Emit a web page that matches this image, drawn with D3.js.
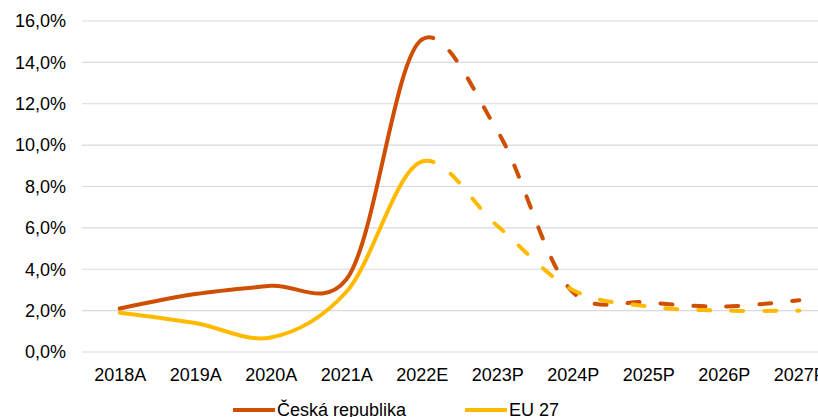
<!DOCTYPE html>
<html>
<head>
<meta charset="utf-8">
<script src="https://cdn.jsdelivr.net/npm/d3@7"></script>
<style>
  html, body { margin: 0; padding: 0; background: #fff; }
  svg { display: block; font-family: "Liberation Sans", Arial, sans-serif; }
</style>
</head>
<body>
<svg id="chart" width="818" height="417"></svg>
<script>
// Inflation: Czech Republic vs EU 27 (A = actual, E = estimate, P = forecast)
const categories = ["2018A", "2019A", "2020A", "2021A", "2022E", "2023P", "2024P", "2025P", "2026P", "2027P"];
const czValues = [2.1, 2.8, 3.2, 3.5, 15.1, 10.7, 2.9, 2.4, 2.2, 2.5];
const euValues = [1.9, 1.4, 0.7, 2.9, 9.2, 6.1, 3.0, 2.2, 2.0, 2.0];
const yTicks = [0, 2, 4, 6, 8, 10, 12, 14, 16];
const seriesNames = ["Česká republika", "EU 27"];
const seriesColors = ["#D04E02", "#FFBA00"];
const lastActual = "2022E"; // solid up to here, dashed afterwards

const svg = d3.select("#chart");
const W = 818;

const x = d3.scalePoint().domain(categories).range([82 + 37.75, 837 - 37.75]);
const y = d3.scaleLinear().domain([0, 16]).range([352, 21]);

// horizontal grid
svg.append("g").selectAll("line").data(yTicks).join("line")
  .attr("x1", 82).attr("x2", W)
  .attr("y1", d => y(d)).attr("y2", d => y(d))
  .attr("stroke", "#d9d9d9").attr("stroke-width", 1.2);

// y axis labels
const fmt = d => d.toFixed(1).replace(".", ",") + "%";
const yAxis = d3.axisLeft(y).tickValues(yTicks).tickFormat(fmt).tickSize(0).tickPadding(0);
svg.append("g").attr("transform", "translate(66,0)").call(yAxis)
  .call(g => g.select(".domain").remove())
  .selectAll("text")
  .attr("font-size", 18).attr("fill", "#000").attr("font-family", "Liberation Sans, Arial, sans-serif");

// x axis labels
const xAxis = d3.axisBottom(x).tickSize(0).tickPadding(0);
svg.append("g").attr("transform", "translate(0,368)").call(xAxis)
  .call(g => g.select(".domain").remove())
  .selectAll("text")
  .attr("font-size", 18).attr("fill", "#000").attr("dy", "0.72em").attr("font-family", "Liberation Sans, Arial, sans-serif");

// Record the smoothed curve segment by segment so the actual part and
// the forecast part share the same tangents at the split point.
function curveSegments(values) {
  const segs = [];
  let cur = null;
  const ctx = {
    moveTo(px, py) { cur = [px, py]; },
    lineTo(px, py) { segs.push({ from: cur, d: `L${px},${py}` }); cur = [px, py]; },
    bezierCurveTo(a, b, c, d2, e, f) { segs.push({ from: cur, d: `C${a},${b},${c},${d2},${e},${f}` }); cur = [e, f]; },
    closePath() {}
  };
  d3.line()
    .x((d, i) => x(categories[i]))
    .y(d => y(d))
    .curve(d3.curveCatmullRom.alpha(0.2))
    .context(ctx)(values);
  return segs;
}
function joinSegs(segs) {
  if (!segs.length) return "";
  return `M${segs[0].from[0]},${segs[0].from[1]}` + segs.map(s => s.d).join("");
}

const split = categories.indexOf(lastActual);
[czValues, euValues].forEach((vals, k) => {
  const segs = curveSegments(vals);
  svg.append("path")
    .attr("d", joinSegs(segs.slice(0, split)))
    .attr("fill", "none").attr("stroke", seriesColors[k])
    .attr("stroke-width", 4).attr("stroke-linecap", "round").attr("stroke-linejoin", "round");
  svg.append("path")
    .attr("d", joinSegs(segs.slice(split)))
    .attr("fill", "none").attr("stroke", seriesColors[k])
    .attr("stroke-width", 4).attr("stroke-linecap", "round").attr("stroke-linejoin", "round")
    .attr("stroke-dasharray", "12,21");
});

// legend
const legendX = [233, 465];
const lg = svg.append("g");
seriesNames.forEach((name, i) => {
  lg.append("line")
    .attr("x1", legendX[i]).attr("x2", legendX[i] + 42)
    .attr("y1", 410).attr("y2", 410)
    .attr("stroke", seriesColors[i]).attr("stroke-width", 4);
  lg.append("text")
    .attr("x", legendX[i] + 44).attr("y", 415.5)
    .attr("font-size", 18).attr("fill", "#000")
    .text(name);
});
</script>
</body>
</html>
